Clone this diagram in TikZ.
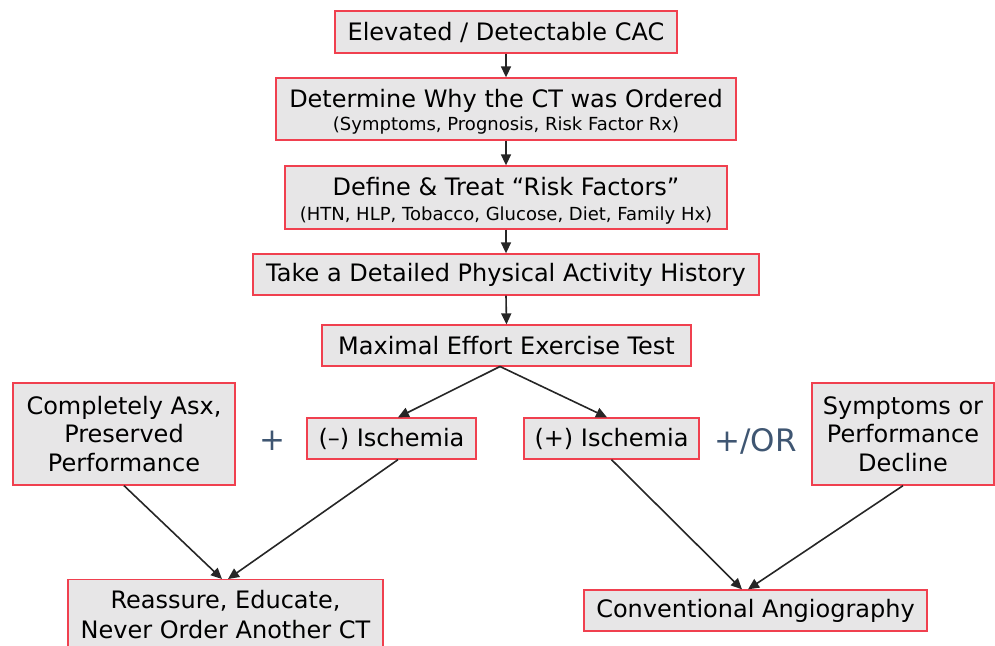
\documentclass[tikz,border=0pt]{standalone}
\usepackage{fontspec}
\setmainfont{DejaVu Sans}
\usetikzlibrary{arrows.meta}
\definecolor{boxred}{HTML}{F0404F}
\definecolor{boxfill}{HTML}{E7E6E7}
\definecolor{slate}{HTML}{3F5672}
\tikzset{
  box/.style={draw=boxred, fill=boxfill, line width=1.3pt, inner sep=0pt, align=center, font=\fontsize{24}{28.5}\selectfont},
  conn/.style={draw=black!85, line width=1.6pt, -{Triangle[length=11pt,width=10pt]}},
  joiner/.style={text=slate, font=\fontsize{31}{34}\selectfont}
}
\begin{document}
\begin{tikzpicture}[x=1pt,y=-1pt]
\useasboundingbox (0,0) rectangle (995,645);
\node[box, minimum width=342pt, minimum height=42pt] (n1) at (506,32) {Elevated / Detectable CAC};
\node[box, minimum width=460pt, minimum height=62pt] (n2) at (506,109) {\rule{0pt}{24pt}Determine Why the CT was Ordered\\[-5.5pt]{\fontsize{18}{21}\selectfont (Symptoms, Prognosis, Risk Factor Rx)}};
\node[box, minimum width=442pt, minimum height=63pt] (n3) at (506,197.5) {\rule{0pt}{24pt}Define \& Treat “Risk Factors”\\[-3.5pt]{\fontsize{18}{21}\selectfont (HTN, HLP, Tobacco, Glucose, Diet, Family Hx)}};
\node[box, minimum width=506pt, minimum height=41pt] (n4) at (506,274.5) {Take a Detailed Physical Activity History};
\node[box, minimum width=369pt, minimum height=41pt] (n5) at (506.5,345.5) {Maximal Effort Exercise Test};
\node[box, minimum width=222pt, minimum height=102pt] (n6) at (124,434) {Completely Asx,\\Preserved\\Performance};
\node[box, minimum width=169pt, minimum height=41pt] (n7) at (391.5,438.5) {(–) Ischemia};
\node[box, minimum width=175pt, minimum height=41pt] (n8) at (611.5,438.5) {(+) Ischemia};
\node[box, minimum width=182pt, minimum height=102pt] (n9) at (903,434) {Symptoms or\\Performance\\Decline};
\node[box, minimum width=315pt, inner ysep=11pt, anchor=north] (n10) at (225.5,579) {Reassure, Educate,\\[1.5pt]Never Order Another CT};
\node[box, minimum width=343pt, minimum height=41pt] (n11) at (755.5,610.5) {Conventional Angiography};
\node[joiner] (plus) at (272.5,441) {+};
\node[joiner] (plusor) at (755.5,441) {+/OR};
\coordinate (split) at (500,366.5);
\draw[conn] (n1.south) -- (n2.north);
\draw[conn] (n2.south) -- (n3.north);
\draw[conn] (n3.south) -- (n4.north);
\draw[conn] (n4.south) -- (n5.north);
\draw[conn] (split) -- ([xshift=6.5pt]n7.north);
\draw[conn] (split) -- ([xshift=-4.5pt]n8.north);
\draw[conn] (n6.south) -- ([xshift=-3.5pt]n10.north);
\draw[conn] ([xshift=6.5pt]n7.south) -- ([xshift=2.5pt]n10.north);
\draw[conn] (n8.south) -- ([xshift=-13.5pt]n11.north);
\draw[conn] (n9.south) -- ([xshift=-7.5pt]n11.north);
\end{tikzpicture}
\end{document}
